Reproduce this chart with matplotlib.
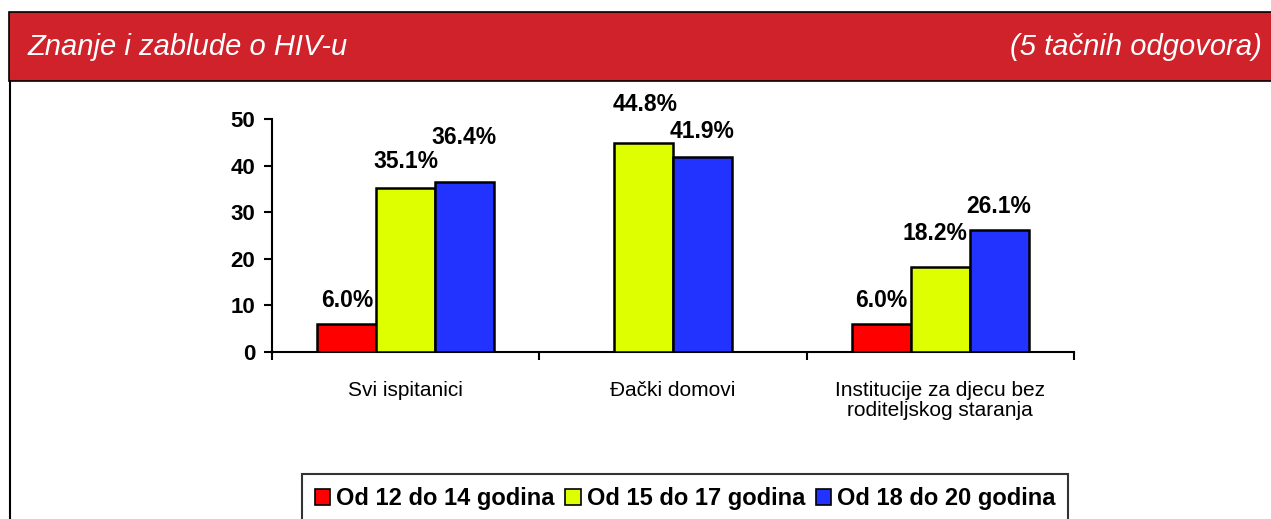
import numpy as np
import matplotlib
matplotlib.use("Agg")
import matplotlib.pyplot as plt
from matplotlib import font_manager
from matplotlib.patches import Rectangle, Patch
from matplotlib.lines import Line2D

# ---------------- data ----------------
categories = ["Svi ispitanici", "Đački domovi", "Institucije za djecu bez\nroditeljskog staranja"]
series_names = ["Od 12 do 14 godina", "Od 15 do 17 godina", "Od 18 do 20 godina"]
age_12_14 = [6.0, np.nan, 6.0]
age_15_17 = [35.1, 44.8, 18.2]
age_18_20 = [36.4, 41.9, 26.1]
y_ticks = [0, 10, 20, 30, 40, 50]
title_left = "Znanje i zablude o HIV-u"
title_right = "(5 tačnih odgovora)"

# ---------------- style ----------------
colors = ["#FF0000", "#DDFF00", "#2233FF"]
header_red = "#D0222A"
# label offsets above bar (pixels), per category then series (non-missing)
label_dy_px = [[24, 27, 45], [0, 39, 25], [24, 34, 24]]
label_dx_px = [[0, 0, 0], [0, 2, 0], [0, -5, 0]]

avail = {f.name for f in font_manager.fontManager.ttflist}
narrow = "Liberation Sans Narrow" if "Liberation Sans Narrow" in avail else "Liberation Sans"
plt.rcParams["font.family"] = [narrow, "DejaVu Sans"]

W, H, DPI = 1271, 519, 100
fig = plt.figure(figsize=(W / DPI, H / DPI), dpi=DPI)

def fx(px):
    return px / W

def fy(py):
    return 1 - py / H

# header band
fig.patches.append(Rectangle((fx(9), fy(81)), 1.2, fy(12) - fy(81), transform=fig.transFigure,
                             facecolor=header_red, edgecolor="black", linewidth=1.2, zorder=0))
fig.add_artist(Line2D([fx(10), fx(10)], [fy(81), -0.1], transform=fig.transFigure,
                      color="black", linewidth=1.5))
fig.text(fx(28), fy(47), title_left, color="white", fontsize=21, style="italic",
         family=["Liberation Sans", "DejaVu Sans"], va="center", ha="left")
fig.text(fx(1262), fy(47), title_right, color="white", fontsize=21, style="italic",
         family=["Liberation Sans", "DejaVu Sans"], va="center", ha="right")

# axes
ax = fig.add_axes([fx(272), fy(352), fx(1074) - fx(272), fy(119) - fy(352)])
series = [age_12_14, age_15_17, age_18_20]
n_cat = len(categories)
bar_w = 0.22
for ci in range(n_cat):
    present = [si for si in range(len(series)) if not np.isnan(series[si][ci])]
    k = len(present)
    for j, si in enumerate(present):
        xpos = ci + (j - (k - 1) / 2) * bar_w
        val = series[si][ci]
        ax.bar(xpos, val, width=bar_w, color=colors[si], edgecolor="black", linewidth=1.8, zorder=3)
        ax.annotate(f"{val:.1f}%", (xpos, val),
                    xytext=(label_dx_px[ci][si] * 0.72, label_dy_px[ci][si] * 0.72),
                    textcoords="offset points", ha="center", va="center",
                    fontsize=16.5, fontweight="bold")

ax.set_xlim(-0.5, n_cat - 0.5)
ax.set_ylim(0, 50)
ax.set_yticks(y_ticks)
ax.set_yticklabels([str(t) for t in y_ticks], fontsize=16, fontweight="bold")
ax.set_xticks(range(n_cat))
ax.set_xticklabels(categories, fontsize=15, linespacing=1.05)
ax.set_xticks(np.arange(-0.5, n_cat, 1.0), minor=True)
ax.tick_params(axis="x", which="major", length=0, pad=21)
ax.tick_params(axis="x", which="minor", length=6, width=1.5, direction="out")
ax.tick_params(axis="y", length=6, width=1.5, direction="out", pad=6)
for s in ["top", "right"]:
    ax.spines[s].set_visible(False)
for s in ["left", "bottom"]:
    ax.spines[s].set_linewidth(1.5)
ax.set_facecolor("none")

# legend
handles = [Patch(facecolor=c, edgecolor="black", linewidth=1.2) for c in colors]
leg = fig.legend(handles, series_names, loc="upper left", bbox_to_anchor=(fx(302), fy(474)),
                 ncol=3, frameon=True, fancybox=False, edgecolor="black",
                 prop={"weight": "bold", "size": 17, "family": [narrow, "DejaVu Sans"]},
                 handlelength=0.65, handleheight=0.65, handletextpad=0.25, columnspacing=0.45,
                 borderpad=0.55, borderaxespad=0)
leg.get_frame().set_linewidth(1.5)

fig.savefig("out.png", dpi=DPI)
